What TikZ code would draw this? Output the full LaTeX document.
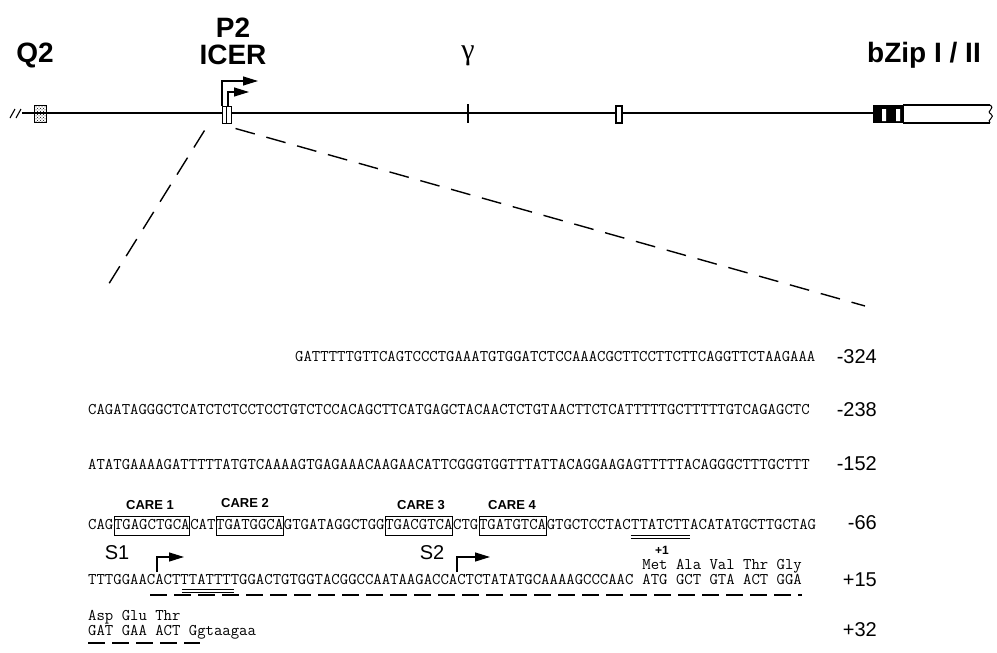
\documentclass[tikz,border=0pt]{standalone}
\usepackage{fontspec}
\setmainfont{Liberation Sans}
\newfontfamily\gamfont{Liberation Serif}
\usetikzlibrary{arrows.meta,calc,patterns}
\newcommand{\seqf}{\fontsize{16.29}{18}\selectfont\ttfamily}
\newcommand{\bigf}{\fontsize{28}{30}\selectfont\bfseries}
\newcommand{\posf}{\fontsize{20}{22}\selectfont}
\begin{document}
\begin{tikzpicture}[x=1pt,y=-1pt,
  seq/.style={font=\seqf, inner sep=0pt, anchor=base west},
  carebox/.style={seq, draw, line width=1pt, inner xsep=0pt, inner ysep=3pt, text height=10pt, text depth=3pt},
  carelab/.style={font=\fontsize{13}{15}\selectfont\bfseries, inner sep=0pt},
  poslab/.style={font=\posf, inner sep=0pt, anchor=east},
  maplab/.style={font=\bigf, inner sep=0pt},
  tss/.style={line width=1.2pt, -{Triangle[length=15pt,width=9pt]}},
  zoomdash/.style={line width=1.4pt, dash pattern=on 20pt off 12pt},
  uldash/.style={line width=2.4pt, dash pattern=on 17pt off 7pt},
  ul/.style={line width=0.9pt}]
\useasboundingbox (0,0) rectangle (997,653);

% ---------- gene map ----------
\draw[line width=1.2pt] (22,113) -- (873,113);
\draw[line width=1.1pt] (10,118) -- (15,109) (16,118) -- (21,109);
\node[draw, line width=1pt, pattern=crosshatch dots, minimum width=12pt, minimum height=17pt, inner sep=0pt] (q2box) at (40,114) {};
\node[draw, fill=white, line width=1pt, minimum width=9pt, minimum height=17pt, inner sep=0pt] (icer) at (226.5,114.5) {};
\draw[line width=0.8pt] (226.5,106) -- (226.5,123);
\draw[line width=2.6pt] (468,104) -- (468,123);
\node[draw, fill=white, line width=1.3pt, minimum width=6pt, minimum height=17pt, inner sep=0pt] (exon3) at (619,114.5) {};
\node[fill=black, minimum width=30pt, minimum height=18pt, inner sep=0pt] (zip) at (888,114) {};
\fill[white] (882,109) rectangle (886,121) (896,109) rectangle (900,121);
\draw[line width=1.1pt] (903,105) -- (990,105) (903,123) -- (990,123) (903,105) -- (903,123);
\draw[line width=1pt] (990,105) .. controls (996,109) and (985,111) .. (991,114) .. controls (996,117) and (986,120) .. (990,123);

\node[maplab] (lq2) at (35,55) {Q2};
\node[maplab] (lp2) at (233,28) {P2};
\node[maplab] (licer) at (233,55) {ICER};
\node[inner sep=0pt, font=\fontsize{30}{32}\selectfont\gamfont] (lgam) at (468,56) {γ};
\node[maplab] (lzip) at (924,55) {bZip I / II};

\coordinate (p2a) at (222,106);
\coordinate (p2b) at (228,106);
\draw[tss] (p2a) -- (222,81) -- (258,81);
\draw[tss] (p2b) -- (228,92) -- (249,92);

\coordinate (zl) at (105,290);
\coordinate (zr) at (865,306);
\draw[zoomdash] ($(icer.south west)+(-17,7)$) -- (zl);
\draw[zoomdash] ($(icer.south east)+(4,5)$) -- (zr);

% ---------- sequence ----------
\node[seq] (r1) at (295,361) {GATTTTTGTTCAGTCCCTGAAATGTGGATCTCCAAACGCTTCCTTCTTCAGGTTCTAAGAAA};
\node[poslab] (n1) at (877,357) {-324};
\node[seq] (r2) at (88,414) {CAGATAGGGCTCATCTCTCCTCCTGTCTCCACAGCTTCATGAGCTACAACTCTGTAACTTCTCATTTTTGCTTTTTGTCAGAGCTC};
\node[poslab] (n2) at (877,410) {-238};
\node[seq] (r3) at (88,469) {ATATGAAAAGATTTTTATGTCAAAAGTGAGAAACAAGAACATTCGGGTGGTTTATTACAGGAAGAGTTTTTACAGGGCTTTGCTTT};
\node[poslab] (n3) at (877,464) {-152};

\node[seq] (c0) at (88,529) {CAG};
\node[carebox] (c1) at (c0.base east) {TGAGCTGCA};
\node[seq] (c2) at (c1.base east) {CAT};
\node[carebox] (c3) at (c2.base east) {TGATGGCA};
\node[seq] (c4) at (c3.base east) {GTGATAGGCTGG};
\node[carebox] (c5) at (c4.base east) {TGACGTCA};
\node[seq] (c6) at (c5.base east) {CTG};
\node[carebox] (c7) at (c6.base east) {TGATGTCA};
\node[seq] (c8) at (c7.base east) {GTGCTCCTAC};
\node[seq] (c9) at (c8.base east) {TTATCTT};
\node[seq] (c10) at (c9.base east) {ACATATGCTTGCTAG};
\node[poslab] (n4) at (877,523) {-66};
\draw[ul] ($(c9.base west)+(0,6)$) -- ($(c9.base east)+(0,6)$);
\draw[ul] ($(c9.base west)+(0,9)$) -- ($(c9.base east)+(0,9)$);

\node[carelab] (k1) at (150,505) {CARE 1};
\node[carelab] (k2) at (245,503) {CARE 2};
\node[carelab] (k3) at (421,505) {CARE 3};
\node[carelab] (k4) at (512,505) {CARE 4};

\node[seq] (s0) at (88,584) {TTTGGAACACTTTATTTTGGACTGTGGTACGGCCAATAAGACCACTCTATATGCAAAAGCCCAAC};
\node[seq] (s1) at ($(s0.base east)+(8.55,0)$) {ATG GCT GTA ACT GGA};
\node[seq] (aa1) at ($(s1.base west)+(0,-15)$) {Met Ala Val Thr Gly};
\node[poslab] (n5) at (877,580) {+15};
\node[inner sep=0pt, font=\fontsize{12}{14}\selectfont\bfseries] (plus1) at (662,550) {+1};
\node[inner sep=0pt, font=\posf] (ls1) at (117,553) {S1};
\node[inner sep=0pt, font=\posf] (ls2) at (432,553) {S2};
\coordinate (t1) at (157,572);
\coordinate (t2) at (457,572);
\draw[tss] (t1) -- (157,557) -- (184,557);
\draw[tss] (t2) -- (457,557) -- (490,557);
\draw[ul] ($(s0.base west)+(94,5)$) -- ($(s0.base west)+(146,5)$);
\draw[ul] ($(s0.base west)+(94,8)$) -- ($(s0.base west)+(146,8)$);
\draw[uldash] ($(s0.base west)+(62,11)$) -- ($(s1.base east)+(0,11)$);

\node[seq] (aa2) at (88,620) {Asp Glu Thr};
\node[seq] (l0) at (88,635) {GAT GAA ACT Ggtaagaa};
\node[poslab] (n6) at (877,630) {+32};
\draw[uldash] ($(l0.base west)+(0,8)$) -- ($(l0.base west)+(112,8)$);
\end{tikzpicture}
\end{document}
